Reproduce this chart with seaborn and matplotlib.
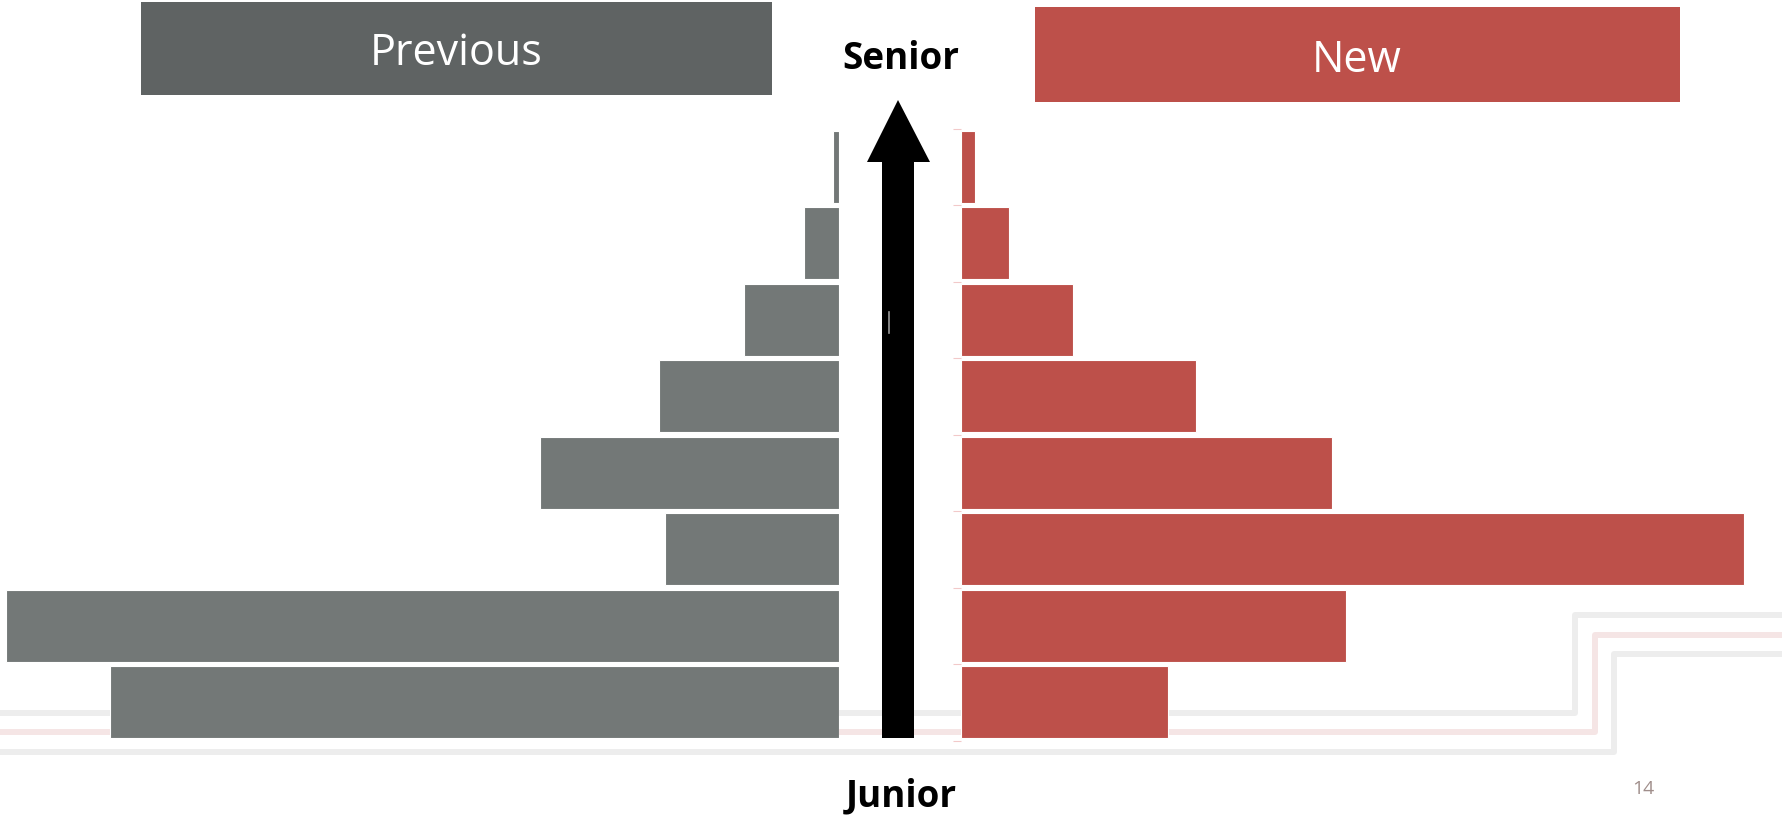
import numpy as np
import pandas as pd
import matplotlib
matplotlib.use("Agg")
import matplotlib.pyplot as plt
from matplotlib.patches import Rectangle, Polygon
import seaborn as sns

# ---- data (senior at top, junior at bottom) ----
levels = ["Level 8", "Level 7", "Level 6", "Level 5", "Level 4", "Level 3", "Level 2", "Level 1"]
previous = [0.7, 4.2, 11.4, 21.6, 35.9, 20.9, 100.0, 87.5]
new = [1.7, 5.8, 13.5, 28.2, 44.5, 94.0, 46.2, 24.8]
header_left = "Previous"
header_right = "New"
top_label = "Senior"
bottom_label = "Junior"
page_number = "14"

GRAY_BAR = "#737877"
GRAY_BOX = "#5f6363"
RED = "#bd504a"

df = pd.DataFrame({"level": levels, "previous": previous, "new": new})

W, H = 1782, 815
fig = plt.figure(figsize=(W / 100, H / 100), dpi=100)
fig.patch.set_facecolor("white")

def fx(x):
    return x / W

def fy(y):
    return 1 - y / H

# background / decoration layer in pixel coordinates
bg = fig.add_axes([0, 0, 1, 1], zorder=0)
bg.set_xlim(0, W)
bg.set_ylim(H, 0)
bg.axis("off")

lw = 4.3
bg.plot([0, 1575, 1575, W], [713, 713, 615, 615], color="#ededed", lw=lw,
        solid_joinstyle="round", solid_capstyle="butt", zorder=1)
bg.plot([0, 1595, 1595, W], [732, 732, 634.5, 634.5], color="#f5e5e5", lw=lw,
        solid_joinstyle="round", solid_capstyle="butt", zorder=1)
bg.plot([0, 1614, 1614, W], [751.5, 751.5, 654, 654], color="#ededed", lw=lw,
        solid_joinstyle="round", solid_capstyle="butt", zorder=1)

# header boxes
bg.add_patch(Rectangle((141, 2), 631, 93, facecolor=GRAY_BOX, edgecolor="none", zorder=3))
bg.add_patch(Rectangle((1035, 7), 645, 95, facecolor=RED, edgecolor="none", zorder=3))
bg.text(456, 54, header_left, color="white", ha="center", va="center",
        fontsize=31, family="Open Sans", fontweight="normal", zorder=4)
bg.text(1357, 61, header_right, color="white", ha="center", va="center",
        fontsize=31, family="Open Sans", fontweight="normal", zorder=4)

# arrow
arrow = Polygon([(882, 738), (882, 162), (867, 162), (898, 100), (930, 162),
                 (914, 162), (914, 738)], closed=True, facecolor="black",
                edgecolor="none", zorder=5)
bg.add_patch(arrow)
bg.plot([889, 889], [312, 333], color="#9a9a9a", lw=1.2, zorder=6)

bg.text(901, 59, top_label, ha="center", va="center", fontsize=26.5,
        family="Open Sans", fontweight="bold", color="black")
bg.text(901, 796, bottom_label, ha="center", va="center", fontsize=26.5,
        family="Open Sans", fontweight="bold", color="black")
bg.text(1643, 789, page_number, ha="center", va="center", fontsize=14,
        family="Open Sans", color="#a08e8b")

# bar axes
px_per_unit = 8.33
top_px, bot_px = 128.5, 740.5
left_edge, center_left = 0, 839
center_right = 961

axL = fig.add_axes([fx(left_edge), fy(bot_px), fx(center_left - left_edge),
                    (bot_px - top_px) / H], zorder=1)
axR = fig.add_axes([fx(center_right), fy(bot_px), fx(W - center_right),
                    (bot_px - top_px) / H], zorder=1)

sns.barplot(data=df, x="previous", y="level", orient="h", color=GRAY_BAR,
            saturation=1, width=0.935, edgecolor="white", linewidth=0.8, ax=axL)
sns.barplot(data=df, x="new", y="level", orient="h", color=RED,
            saturation=1, width=0.935, edgecolor="white", linewidth=0.8, ax=axR)

axL.set_xlim((center_left - left_edge) / px_per_unit, 0)
axR.set_xlim(0, (W - center_right) / px_per_unit)

for ax in (axL, axR):
    ax.set_ylim(len(levels) - 0.5, -0.5)
    ax.patch.set_alpha(0)
    for s in ax.spines.values():
        s.set_visible(False)
    ax.set_xlabel("")
    ax.set_ylabel("")
    ax.set_xticks([])

axL.set_yticks([])
axR.set_yticks(np.arange(-0.5, len(levels), 1.0))
axR.set_yticklabels([])
axR.tick_params(axis="y", length=6, width=0.8, color="#f2c9c9", direction="out")

fig.savefig("out.png", dpi=100, facecolor="white")
